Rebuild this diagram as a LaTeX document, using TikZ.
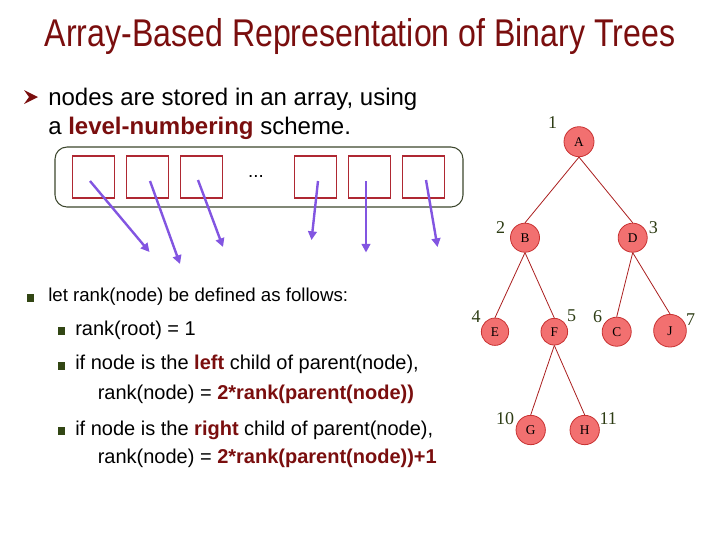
\documentclass[tikz,border=0pt]{standalone}
\usepackage{fontspec}
\setmainfont{Liberation Sans}
\newfontfamily\titlefont[FakeStretch=0.83]{Liberation Sans}
\newfontfamily\treefont{Liberation Serif}
\usetikzlibrary{arrows.meta}
\definecolor{maroon}{RGB}{122,14,14}
\definecolor{numgreen}{RGB}{45,60,20}
\definecolor{bulletgreen}{RGB}{50,70,20}
\definecolor{boxred}{RGB}{175,40,50}
\definecolor{framegreen}{RGB}{60,70,45}
\definecolor{arrowpurple}{RGB}{130,85,225}
\definecolor{nodefill}{RGB}{242,112,112}
\definecolor{nodedraw}{RGB}{200,50,50}
\definecolor{edgered}{RGB}{170,30,30}
\begin{document}
\begin{tikzpicture}[x=0.75pt,y=-0.75pt,
  titlestyle/.style={inner sep=0pt, text=maroon, font=\titlefont\fontsize{29}{32}\selectfont},
  bigtext/.style={inner sep=0pt, anchor=base west, font=\fontsize{18}{20}\selectfont},
  midtext/.style={inner sep=0pt, anchor=west, font=\fontsize{14}{16}\selectfont},
  subtext/.style={inner sep=0pt, anchor=west, font=\fontsize{15}{17}\selectfont},
  cell/.style={draw=boxred, line width=0.8pt, minimum size=31.5pt, inner sep=0pt},
  frame/.style={draw=framegreen, line width=0.8pt, rounded corners=9pt},
  ptr/.style={draw=arrowpurple, line width=1.8pt, -{Triangle[length=6.5pt,width=6.5pt]}},
  tn/.style={circle, draw=nodedraw, fill=nodefill, line width=0.6pt, inner sep=0pt, font=\treefont\fontsize{10}{11}\selectfont},
  edge/.style={draw=edgered, line width=0.6pt},
  num/.style={inner sep=0pt, text=numgreen, font=\treefont\fontsize{13.5}{14}\selectfont},
  sq/.style={fill=bulletgreen, minimum size=5.5pt, inner sep=0pt},
]
\useasboundingbox (0,0) rectangle (720,540);

% title
\node[titlestyle] (title) at (360,36) {Array-Based Representation of Binary Trees};

% first bullet
\fill[maroon] (24,90) -- (38,97) -- (24,104) -- (29,97) -- cycle;
\node[bigtext] (b1a) at (48,105.5) {nodes are stored in an array, using};
\node[bigtext] (b1b) at (48,134) {a \textbf{\color{maroon}level-numbering} scheme.};

% array
\draw[frame] (55,147) rectangle (463,207);
\node[cell] (c1) at (93.3,177) {};
\node[cell] (c2) at (147.3,177) {};
\node[cell] (c3) at (201.3,177) {};
\node[cell] (c4) at (315.3,177) {};
\node[cell] (c5) at (369.3,177) {};
\node[cell] (c6) at (423.3,177) {};
\node[inner sep=0pt, font=\fontsize{14}{16}\selectfont] (dots) at (256,176) {...};

\coordinate (s1) at (90,181);   \coordinate (e1) at (149.5,252);
\coordinate (s2) at (150,181);  \coordinate (e2) at (180,264);
\coordinate (s3) at (198,180);  \coordinate (e3) at (223,247);
\coordinate (s4) at (318,181);  \coordinate (e4) at (311.5,240);
\coordinate (s5) at (366,181);  \coordinate (e5) at (366,252.5);
\coordinate (s6) at (426,180);  \coordinate (e6) at (437.5,247);
\draw[ptr] (s1) -- (e1);
\draw[ptr] (s2) -- (e2);
\draw[ptr] (s3) -- (e3);
\draw[ptr] (s4) -- (e4);
\draw[ptr] (s5) -- (e5);
\draw[ptr] (s6) -- (e6);

% tree
\node[tn, minimum size=22.5pt] (A) at (579,141.7) {A};
\node[tn, minimum size=21.8pt] (B) at (525,237.7) {B};
\node[tn, minimum size=21.8pt] (D) at (632.7,237.7) {D};
\node[tn, minimum size=20.5pt] (E) at (495,331.7) {E};
\node[tn, minimum size=20pt] (F) at (554.3,331.7) {F};
\node[tn, minimum size=21.8pt] (C) at (616.7,331.7) {C};
\node[tn, minimum size=24.5pt] (J) at (670,330.7) {J};
\node[tn, minimum size=22pt] (G) at (530.7,430) {G};
\node[tn, minimum size=22pt] (H) at (584.7,430) {H};
\draw[edge] (A.south) -- (B.north);
\draw[edge] (A.south) -- (D.north);
\draw[edge] (B.south) -- (E.north);
\draw[edge] (B.south) -- (F.north);
\draw[edge] (D.south) -- (C.north);
\draw[edge] (D.south) -- (J.north);
\draw[edge] (F.south) -- (G.north);
\draw[edge] (F.south) -- (H.north);

\node[num] (n1) at (552.7,123) {1};
\node[num] (n2) at (500.7,227.5) {2};
\node[num] (n3) at (653.3,227.5) {3};
\node[num] (n4) at (476,317) {4};
\node[num] (n5) at (571.7,316) {5};
\node[num] (n6) at (597.7,317) {6};
\node[num] (n7) at (690.7,319.3) {7};
\node[num] (n10) at (505,419) {10};
\node[num] (n11) at (608.3,419) {11};

% rank definitions
\node[sq] (q0) at (30.5,298) {};
\node[midtext] (l0) at (48,297) {let rank(node) be defined as follows:};
\node[sq] (q1) at (61.5,331) {};
\node[subtext] (l1) at (75,330) {rank(root) = 1};
\node[sq] (q2) at (61.5,366) {};
\node[subtext] (l2) at (75,364) {if node is the \textbf{\color{maroon}left} child of parent(node),};
\node[subtext] (l3) at (97.5,394) {rank(node) = \textbf{\color{maroon}2*rank(parent(node))}};
\node[sq] (q3) at (61.5,431) {};
\node[subtext] (l4) at (75,430) {if node is the \textbf{\color{maroon}right} child of parent(node),};
\node[subtext] (l5) at (97.5,458) {rank(node) = \textbf{\color{maroon}2*rank(parent(node))+1}};
\end{tikzpicture}
\end{document}
